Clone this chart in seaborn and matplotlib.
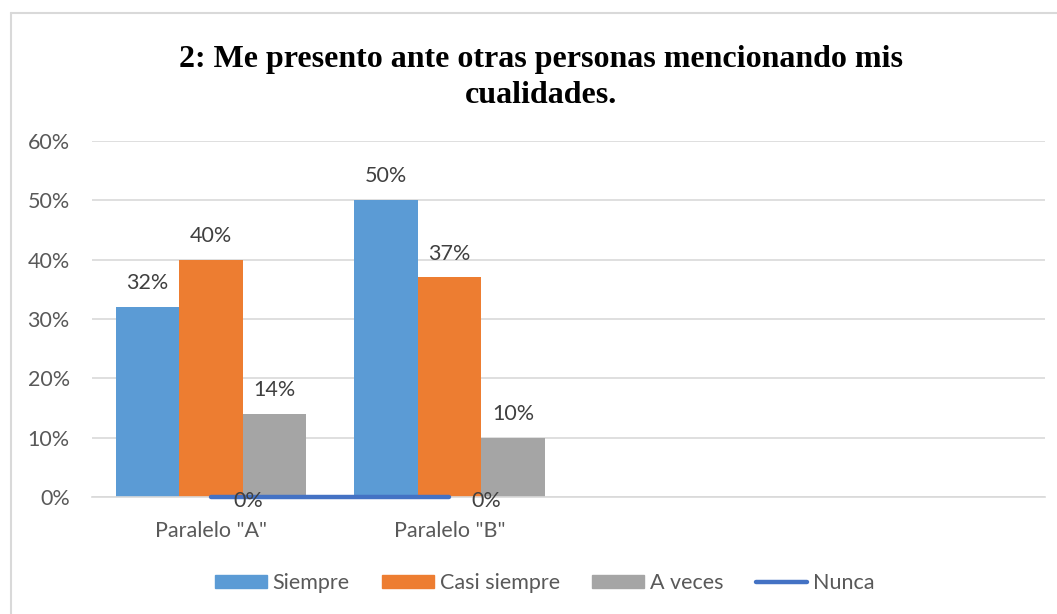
import numpy as np
import pandas as pd
import matplotlib.pyplot as plt
import matplotlib.patches as mpatches
import matplotlib.lines as mlines
import seaborn as sns

# data
categories = ['Paralelo "A"', 'Paralelo "B"']
series = ["Siempre", "Casi siempre", "A veces"]
siempre = [0.32, 0.50]
casi_siempre = [0.40, 0.37]
a_veces = [0.14, 0.10]
nunca = [0.0, 0.0]

BLUE = "#5B9BD5"
ORANGE = "#ED7D31"
GREY = "#A5A5A5"
LINE_BLUE = "#4472C4"
TEXT_GREY = "#595959"
LABEL_GREY = "#404040"
GRID = "#D9D9D9"
FS = 15.5

sns.set_theme(style="white")
plt.rcParams["font.family"] = ["Lato", "DejaVu Sans"]

df = pd.DataFrame({
    "paralelo": categories * 3,
    "respuesta": [s for s in series for _ in categories],
    "valor": siempre + casi_siempre + a_veces,
})

fig = plt.figure(figsize=(10.57, 6.14), dpi=100)
ax = fig.add_axes([92 / 1057, 1 - 497 / 614, (1045 - 92) / 1057, (497 - 141) / 614])

sns.barplot(data=df, x="paralelo", y="valor", hue="respuesta", order=categories,
            hue_order=series, palette=[BLUE, ORANGE, GREY], saturation=1,
            width=0.8, ax=ax, legend=False, linewidth=0, errorbar=None)

pos = np.arange(len(categories))
sns.lineplot(x=pos, y=nunca, color=LINE_BLUE, linewidth=3.2, ax=ax,
             solid_capstyle="round", legend=False, clip_on=False, zorder=5)

for cont in ax.containers:
    ax.bar_label(cont, labels=[f"{v:.0%}" for v in cont.datavalues],
                 padding=10, fontsize=FS, color=LABEL_GREY)
for x, v in zip(pos, nunca):
    ax.annotate(f"{v:.0%}", (x, v), xytext=(16, -3), textcoords="offset points",
                ha="left", va="center", fontsize=FS, color=LABEL_GREY, zorder=6)

# Excel keeps four category slots, only two hold data
ax.set_xlim(-0.5, 3.5)
ax.set_ylim(0, 0.6)
ax.set_yticks(np.arange(0, 0.61, 0.1))
ax.set_yticklabels([f"{t:.0%}" for t in np.arange(0, 0.61, 0.1)])
ax.set_xticks(pos)
ax.set_xticklabels(categories)
ax.set_xlabel("")
ax.set_ylabel("")
ax.tick_params(axis="y", length=0, pad=16, labelsize=FS, labelcolor=TEXT_GREY)
ax.tick_params(axis="x", length=0, pad=17, labelsize=FS, labelcolor=TEXT_GREY)
ax.yaxis.grid(True, color=GRID, linewidth=1.2)
ax.set_axisbelow(True)
for side in ["top", "right", "left"]:
    ax.spines[side].set_visible(False)
ax.spines["bottom"].set_color(GRID)
ax.spines["bottom"].set_linewidth(1.2)

fig.text(541 / 1057, 1 - 103 / 614, "2: Me presento ante otras personas mencionando mis\ncualidades.",
         ha="center", va="baseline", multialignment="center", fontsize=23,
         fontweight="bold", family="Liberation Serif", linespacing=1.3, color="black")

handles = [mpatches.Patch(color=BLUE, label="Siempre"),
           mpatches.Patch(color=ORANGE, label="Casi siempre"),
           mpatches.Patch(color=GREY, label="A veces"),
           mlines.Line2D([], [], color=LINE_BLUE, linewidth=3.2,
                         solid_capstyle="round", label="Nunca")]
leg = fig.legend(handles=handles, loc="center", bbox_to_anchor=(545 / 1057, 1 - 583 / 614),
                 ncol=4, frameon=False, fontsize=FS, handlelength=2.4,
                 handleheight=0.55, handletextpad=0.28, columnspacing=1.5)
for t in leg.get_texts():
    t.set_color(TEXT_GREY)

# chart border (top and left edges visible in the reference)
fig.add_artist(mlines.Line2D([11 / 1057, 11 / 1057], [0, 1 - 13 / 614],
                             transform=fig.transFigure, color=GRID, linewidth=1.5))
fig.add_artist(mlines.Line2D([11 / 1057, 1], [1 - 13 / 614, 1 - 13 / 614],
                             transform=fig.transFigure, color=GRID, linewidth=1.5))

fig.savefig("out.png", dpi=100, facecolor="white")
